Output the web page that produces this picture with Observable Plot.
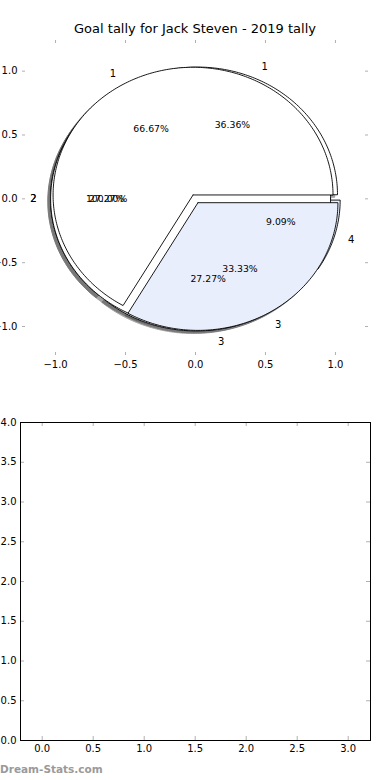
<!DOCTYPE html>
<html><head><meta charset="utf-8">
<script src="https://cdn.jsdelivr.net/npm/d3@7"></script>
<script src="https://cdn.jsdelivr.net/npm/@observablehq/plot@0.6"></script>
<style>
body{margin:0;background:#fff;font-family:"DejaVu Sans",sans-serif;}
#wrap{position:relative;width:390px;height:780px;overflow:hidden;background:#fff;}
#pie{position:absolute;left:0;top:0;}
#empty{position:absolute;left:0;top:390px;}
#title{position:absolute;left:0;top:21px;width:390px;text-align:center;font-size:13px;line-height:15px;color:#000;white-space:nowrap;}
#wm{position:absolute;left:0;top:763px;font-size:10.5px;font-weight:bold;line-height:13px;color:#9a9a9a;white-space:nowrap;}
</style></head><body>
<div id="wrap"><div id="pie"></div><div id="empty"></div><div id="title"></div><div id="wm"></div></div>
<script>
// ---- data ----
const chartTitle = "Goal tally for Jack Steven - 2019 tally";
const watermark = "Dream-Stats.com";
const pie1Labels = ["1", "3"];
const pie1Values = [2, 1];
const pie2Labels = ["1", "2", "3", "4"];
const pie2Values = [4, 3, 3, 1];
const pie3Labels = ["2"];
const pie3Values = [1];
const sliceColors = ["#ffffff", "#e8eefc"];
const pieTicks = [-1, -0.5, 0, 0.5, 1];
const emptyXTicks = [0, 0.5, 1, 1.5, 2, 2.5, 3];
const emptyYTicks = [0, 0.5, 1, 1.5, 2, 2.5, 3, 3.5, 4];

document.getElementById("title").textContent = chartTitle;
document.getElementById("wm").textContent = watermark;

const EXPLODE = 0.035;
function buildPie(name, labels, values) {
  const total = d3.sum(values);
  let start = 0;
  const wedges = [], shadows = [], texts = [];
  labels.forEach((lab, i) => {
    const frac = values[i] / total;
    const a1 = start, a2 = start + frac * 360;
    start = a2;
    const mid = (a1 + a2) / 2 * Math.PI / 180;
    const cx = EXPLODE * Math.cos(mid), cy = EXPLODE * Math.sin(mid);
    const full = frac > 0.999999;
    const id = name + "-" + i;
    const color = sliceColors[i % sliceColors.length];
    const pts = [];
    if (!full) pts.push({x: cx, y: cy});
    const n = Math.max(2, Math.ceil(a2 - a1));
    for (let k = 0; k <= n; k++) {
      const a = (a1 + (a2 - a1) * k / n) * Math.PI / 180;
      pts.push({x: cx + Math.cos(a), y: cy + Math.sin(a)});
    }
    if (!full) pts.push({x: cx, y: cy});
    pts.forEach(p => { wedges.push({...p, id, color}); shadows.push({x: p.x - 0.02, y: p.y - 0.02, id: "s" + id}); });
    const lx = cx + 1.1 * Math.cos(mid), ly = cy + 1.1 * Math.sin(mid);
    texts.push({kind: "label", text: lab, x: lx, y: ly, side: lx > cx ? "start" : "end"});
    texts.push({kind: "pct", text: (frac * 100).toFixed(2) + "%", x: cx + 0.6 * Math.cos(mid), y: cy + 0.6 * Math.sin(mid)});
  });
  return {wedges, shadows, texts};
}

const p1 = buildPie("p1", pie1Labels, pie1Values);
const p2 = buildPie("p2", pie2Labels, pie2Values);
const p3 = buildPie("p3", pie3Labels, pie3Values);
const allShadows = [...p2.shadows, ...p3.shadows, ...p1.shadows];
const allTexts = [...p2.texts, ...p3.texts, ...p1.texts];

const fmt = d3.format(".1f");
const TW = 390 - 22 - 22, TH = 390 - 40 - 35;
const tickColor = "#b0b0b0";

const pieChart = Plot.plot({
  width: 390, height: 390,
  marginTop: 40, marginBottom: 35, marginLeft: 22, marginRight: 22,
  x: {domain: [-1.236, 1.236], axis: null},
  y: {domain: [-1.227, 1.24], axis: null},
  color: {type: "identity"},
  style: {fontFamily: "DejaVu Sans", fontSize: "10px", background: "transparent", color: "black"},
  marks: [
    Plot.line(allShadows, {x: "x", y: "y", z: "id", fill: "#4d4d4d", stroke: "#4d4d4d", opacity: 0.5, strokeWidth: 1, curve: "linear"}),
    Plot.line(p2.wedges, {x: "x", y: "y", z: "id", fill: "color", stroke: "black", strokeWidth: 0.9, curve: "linear"}),
    Plot.line(p3.wedges, {x: "x", y: "y", z: "id", fill: "color", stroke: "black", strokeWidth: 0.9, curve: "linear"}),
    Plot.line(p1.wedges, {x: "x", y: "y", z: "id", fill: "color", stroke: "black", strokeWidth: 0.9, curve: "linear"}),
    Plot.text(allTexts.filter(d => d.kind === "label" && d.side === "start"), {x: "x", y: "y", text: "text", textAnchor: "start", fontSize: 10, fill: "black"}),
    Plot.text(allTexts.filter(d => d.kind === "label" && d.side === "end"), {x: "x", y: "y", text: "text", textAnchor: "end", fontSize: 10, fill: "black"}),
    Plot.text(allTexts.filter(d => d.kind === "pct"), {x: "x", y: "y", text: "text", textAnchor: "middle", fontSize: 9.3, fill: "black"}),
    Plot.tickX(pieTicks, {x: d => d, insetBottom: TH - 3, stroke: tickColor}),
    Plot.tickX(pieTicks, {x: d => d, insetTop: TH - 3, stroke: tickColor}),
    Plot.tickY(pieTicks, {y: d => d, insetRight: TW - 3, stroke: tickColor}),
    Plot.tickY(pieTicks, {y: d => d, insetLeft: TW - 3, stroke: tickColor}),
    Plot.axisX(pieTicks, {anchor: "bottom", tickSize: 0, tickPadding: 5, tickFormat: fmt, label: null, fontSize: 10}),
    Plot.axisY(pieTicks, {anchor: "left", tickSize: 0, tickPadding: 5, tickFormat: fmt, label: null, fontSize: 10})
  ]
});
document.getElementById("pie").appendChild(pieChart);

const BW = 390 - 20 - 20, BH = 390 - 32 - 40;
const emptyChart = Plot.plot({
  width: 390, height: 390,
  marginTop: 32, marginBottom: 40, marginLeft: 20, marginRight: 20,
  x: {domain: [-0.2127, 3.2186], axis: null},
  y: {domain: [0, 4], axis: null},
  style: {fontFamily: "DejaVu Sans", fontSize: "10px", background: "transparent", color: "black"},
  marks: [
    Plot.tickX(emptyXTicks, {x: d => d, insetBottom: BH - 4, stroke: tickColor}),
    Plot.tickX(emptyXTicks, {x: d => d, insetTop: BH - 4, stroke: tickColor}),
    Plot.tickY(emptyYTicks, {y: d => d, insetRight: BW - 4, stroke: tickColor}),
    Plot.tickY(emptyYTicks, {y: d => d, insetLeft: BW - 4, stroke: tickColor}),
    Plot.frame({stroke: "black", strokeWidth: 1}),
    Plot.axisX(emptyXTicks, {anchor: "bottom", tickSize: 0, tickPadding: 4, tickFormat: fmt, label: null, fontSize: 10}),
    Plot.axisY(emptyYTicks, {anchor: "left", tickSize: 0, tickPadding: 4, tickFormat: fmt, label: null, fontSize: 10})
  ]
});
document.getElementById("empty").appendChild(emptyChart);
</script>
</body></html>
